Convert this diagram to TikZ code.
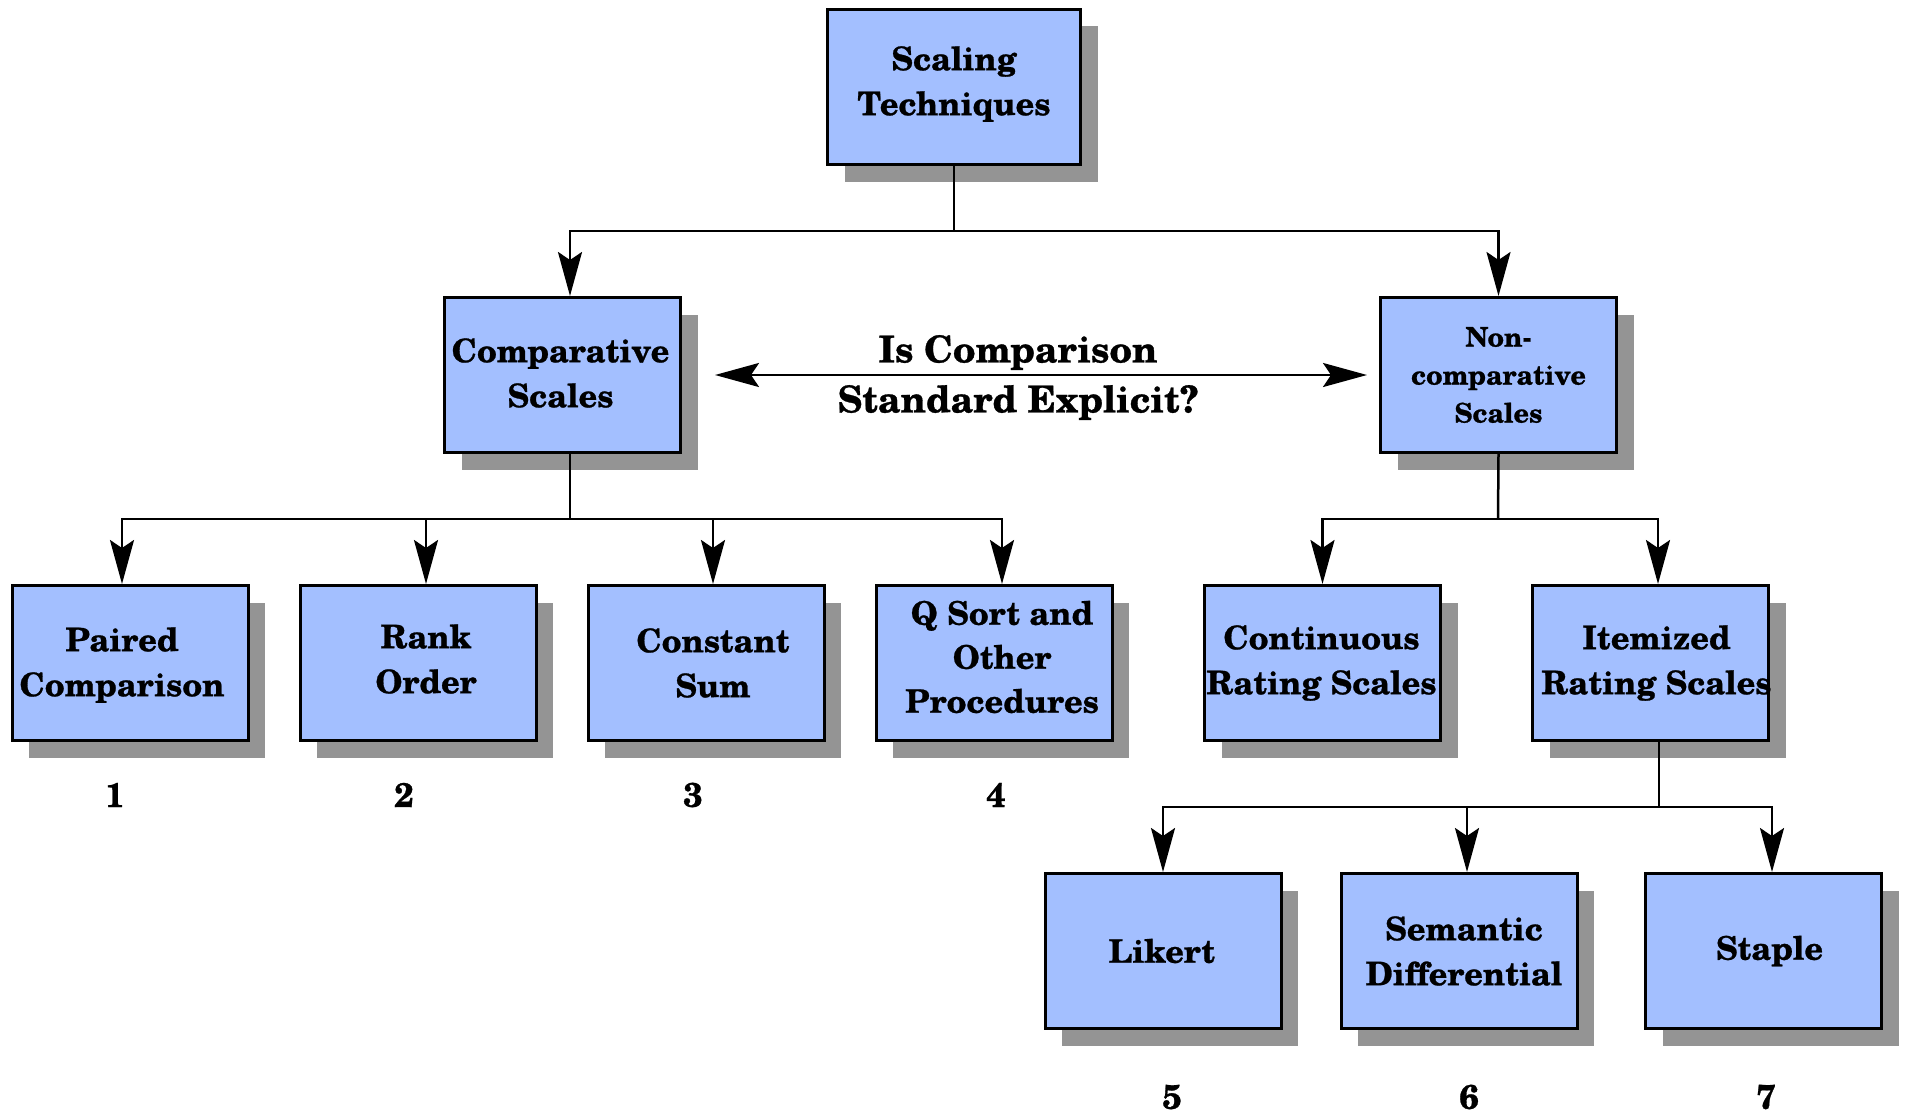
\documentclass[tikz,border=0pt]{standalone}
\usepackage{fontspec}
\setmainfont{TeX Gyre Schola}[BoldFeatures={FakeBold=0.8}]
\usetikzlibrary{shadows,arrows.meta}
\definecolor{boxblue}{RGB}{163,191,255}
\definecolor{shadowgray}{RGB}{148,148,148}
\tikzset{
  box/.style={draw=black, line width=3pt, fill=boxblue, minimum width=236pt, minimum height=155pt,
    inner sep=0pt,
    drop shadow={shadow xshift=17pt, shadow yshift=-17pt, fill=shadowgray, opacity=1, draw=none}},
  lbl/.style={align=center, inner sep=0pt, font=\fontsize{32.5}{45}\selectfont\bfseries},
  conn/.style={line width=2.5pt, draw=black},
  arr/.style={conn, -{Stealth[length=44pt,width=24pt,inset=8pt]}},
  darr/.style={conn, {Stealth[length=44pt,width=24pt,inset=8pt]}-{Stealth[length=44pt,width=24pt,inset=8pt]}},
  num/.style={font=\fontsize{34}{40}\selectfont\bfseries, inner sep=0pt},
}
\begin{document}
\begin{tikzpicture}[x=1pt,y=-1pt]
\useasboundingbox (0,0) rectangle (1905,1113);
% boxes
\node[box, minimum width=253pt] (top) at (954,87) {};
\node[box] (comp) at (562.5,375) {};
\node[box] (noncomp) at (1498.5,375) {};
\node[box] (paired) at (130,663) {};
\node[box] (rank) at (418,663) {};
\node[box] (const) at (706,663) {};
\node[box] (qsort) at (994,663) {};
\node[box] (cont) at (1322.5,663) {};
\node[box] (item) at (1650.5,663) {};
\node[box] (likert) at (1163,951) {};
\node[box] (sem) at (1459,951) {};
\node[box] (staple) at (1763.5,951) {};
% box texts
\node[lbl] (t-top) at ([yshift=3pt]top.center) {Scaling\\Techniques};
\node[lbl] (t-comp) at ([xshift=-2pt,yshift=2pt]comp.center) {Comparative\\Scales};
\node[lbl, font=\fontsize{27}{38}\selectfont\bfseries] (t-noncomp) at (noncomp.center) {Non-\\comparative\\Scales};
\node[lbl] (t-paired) at ([xshift=-8pt,yshift=-2pt]paired.center) {Paired\\Comparison};
\node[lbl] (t-rank) at ([xshift=8pt,yshift=4pt]rank.center) {Rank\\Order};
\node[lbl] (t-const) at ([xshift=7pt]const.center) {Constant\\Sum};
\node[lbl, font=\fontsize{32.5}{44}\selectfont\bfseries] (t-qsort) at ([xshift=8pt,yshift=6pt]qsort.center) {Q Sort and\\Other\\Procedures};
\node[lbl] (t-cont) at ([xshift=-1pt]cont.center) {Continuous\\Rating Scales};
\node[lbl] (t-item) at ([xshift=6pt]item.center) {Itemized\\Rating Scales};
\node[lbl] (t-likert) at ([xshift=-1pt]likert.center) {Likert};
\node[lbl] (t-sem) at ([xshift=5pt]sem.center) {Semantic\\Differential};
\node[lbl] (t-staple) at ([xshift=6pt]staple.center) {Staple};
% numbers
\node[num] (n1) at (115,795) {1};
\node[num] (n2) at (404,795) {2};
\node[num] (n3) at (693,795) {3};
\node[num] (n4) at (996,795) {4};
\node[num] (n5) at (1172,1097) {5};
\node[num] (n6) at (1469,1097) {6};
\node[num] (n7) at (1766,1097) {7};
% middle label
\node[font=\fontsize{37}{50}\selectfont\bfseries, align=center, inner sep=0pt] (q) at (1018,377.5) {Is Comparison\\Standard Explicit?};
% junction coordinates
\coordinate (j1) at (954,231);
\coordinate (j2) at (570,519);
\coordinate (j3) at (1498,519);
\coordinate (j4) at (1659,807);
% connectors level 1 -> 2
\draw[conn] (top.south) -- (j1);
\draw[arr] (j1) -| ([xshift=7.5pt]comp.north);
\draw[arr] (j1) -| (noncomp.north);
% comparative -> level 3
\draw[conn] ([xshift=7.5pt]comp.south) -- (j2);
\draw[arr] (j2) -| ([xshift=-8pt]paired.north);
\draw[arr] (j2) -| ([xshift=8pt]rank.north);
\draw[arr] (j2) -| ([xshift=7pt]const.north);
\draw[arr] (j2) -| ([xshift=8pt]qsort.north);
% noncomparative -> level 3
\draw[conn] (noncomp.south) -- (j3);
\draw[arr] (j3) -| (cont.north);
\draw[arr] (j3) -| ([xshift=7.5pt]item.north);
% itemized -> level 4
\draw[conn] ([xshift=8.5pt]item.south) -- (j4);
\draw[arr] (j4) -| (likert.north);
\draw[arr] (j4) -| ([xshift=8pt]sem.north);
\draw[arr] (j4) -| ([xshift=8.5pt]staple.north);
% double arrow
\draw[darr] ([xshift=33pt]comp.east) -- ([xshift=-12pt]noncomp.west);
\end{tikzpicture}
\end{document}
